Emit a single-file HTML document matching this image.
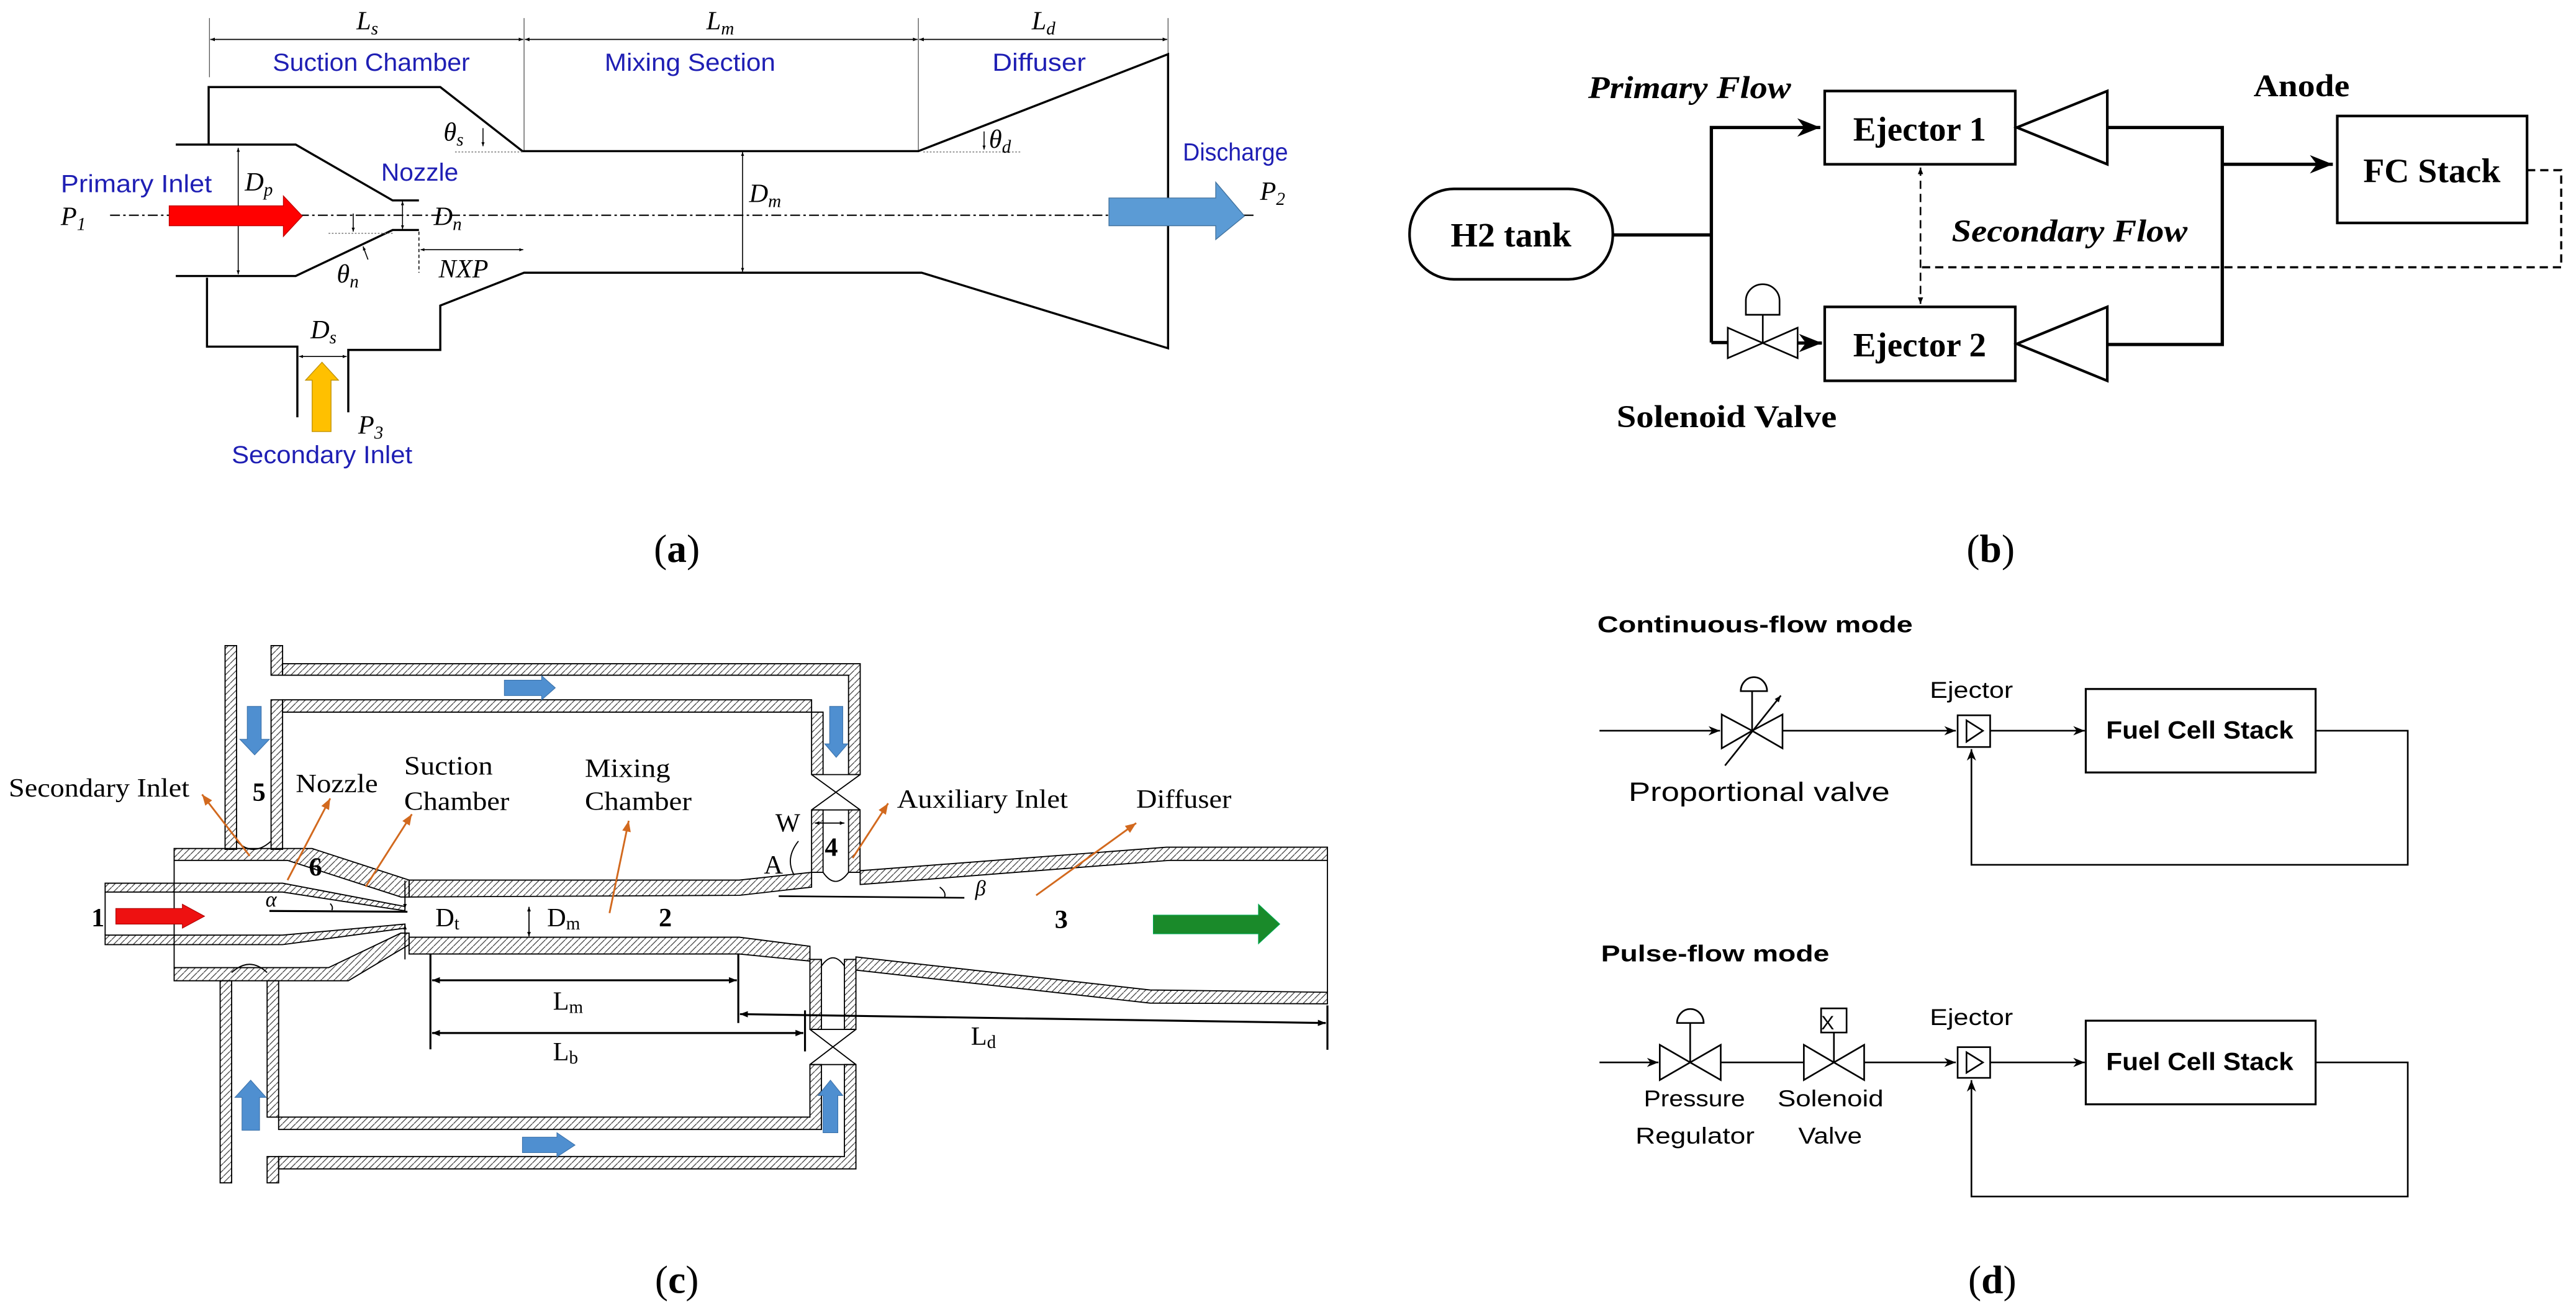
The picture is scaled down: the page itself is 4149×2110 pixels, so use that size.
<!DOCTYPE html>
<html><head><meta charset="utf-8"><style>html,body{margin:0;padding:0;background:#fff}svg{display:block}</style></head><body>
<svg xmlns="http://www.w3.org/2000/svg" width="4149" height="2110" viewBox="0 0 1568 797.4" preserveAspectRatio="none">
<defs>
<pattern id="h" patternUnits="userSpaceOnUse" width="4" height="4"><path d="M-1,5 L5,-1" stroke="#333" stroke-width="0.45"/></pattern>
<marker id="ah" viewBox="0 0 10 10" refX="10" refY="5" markerWidth="5" markerHeight="5" orient="auto-start-reverse"><path d="M0,0 L10,5 L0,10 Z" fill="#000"/></marker>
<marker id="as" viewBox="0 0 10 10" refX="10" refY="5" markerWidth="4" markerHeight="4" orient="auto-start-reverse"><path d="M0,1 L10,5 L0,9 Z" fill="#000"/></marker>
<marker id="ao" viewBox="0 0 10 10" refX="10" refY="5" markerWidth="6" markerHeight="6" orient="auto"><path d="M0,1 L10,5 L0,9 Z" fill="#d2691e"/></marker>
<marker id="ad" viewBox="0 0 10 10" refX="10" refY="5" markerWidth="7" markerHeight="7" orient="auto-start-reverse"><path d="M0,1 L10,5 L0,9 L3,5 Z" fill="#000"/></marker>
</defs>
<rect width="1568" height="797.4" fill="#fff"/>

<!-- ================= PANEL A ================= -->
<g fill="none" stroke="#000">
<g stroke-width="0.5" stroke="#555">
<line x1="127.5" y1="11" x2="127.5" y2="47"/><line x1="319" y1="11" x2="319" y2="92"/><line x1="559" y1="11" x2="559" y2="92"/><line x1="711" y1="11" x2="711" y2="33"/>
</g>
<g stroke-width="0.7" marker-start="url(#as)" marker-end="url(#as)">
<line x1="128" y1="24" x2="318.5" y2="24"/><line x1="319.5" y1="24" x2="558.5" y2="24"/><line x1="559.5" y1="24" x2="710.5" y2="24"/>
</g>
<g stroke-width="1.3">
<polyline points="127,88 127,53 268,53 318,92 559,92 711,33 711,212 561,166 319,166 268,186 268,213 212,213 212,251"/>
<polyline points="181,254 181,211 126,211 126,169"/>
<polyline points="107,88 180,88 239,122 255,122"/>
<polyline points="107,168 180,168 239,140 255,140"/>
</g>
<line x1="67" y1="131" x2="765" y2="131" stroke-width="0.8" stroke-dasharray="6,2,1.5,2"/>
<g stroke-width="0.6" marker-start="url(#as)" marker-end="url(#as)">
<line x1="145" y1="90" x2="145" y2="167"/><line x1="452" y1="92.5" x2="452" y2="165.5"/>
<line x1="245" y1="122.5" x2="245" y2="139.5"/><line x1="256" y1="152" x2="318.5" y2="152"/>
<line x1="182" y1="217" x2="211" y2="217"/>
</g>
<line x1="255" y1="141" x2="255" y2="166" stroke-width="0.6" stroke-dasharray="2,1.5"/>
<g stroke-width="0.6" stroke="#777" stroke-dasharray="1,1">
<line x1="200" y1="142" x2="240" y2="142"/><line x1="277" y1="92.5" x2="318" y2="92.5"/><line x1="562" y1="92.5" x2="622" y2="92.5"/>
</g>
<g stroke-width="0.6" marker-end="url(#as)">
<line x1="215" y1="130" x2="215" y2="141"/><line x1="294" y1="78" x2="294" y2="89"/><line x1="599" y1="80" x2="599" y2="91"/>
<line x1="224" y1="158" x2="221" y2="150"/>
</g>
</g>
<polygon points="103,125.3 172.5,125.3 172.5,119.3 184,131.5 172.5,143.9 172.5,137.4 103,137.4" fill="#ff0000" stroke="#c00000" stroke-width="0.5"/>
<polygon points="675,120.5 740,120.5 740,110.9 757.5,131.5 740,145.8 740,137.4 675,137.4" fill="#5b9bd5" stroke="#41719c" stroke-width="0.5"/>
<polygon points="190,262.7 190,231.4 186,231.4 196,220.5 206,231.4 201.5,231.4 201.5,262.7" fill="#ffc000" stroke="#bf9000" stroke-width="0.5"/>
<g font-family="Liberation Sans, sans-serif" fill="#1f1fb4" font-size="15">
<text x="166" y="43" textLength="120" lengthAdjust="spacingAndGlyphs">Suction Chamber</text>
<text x="368" y="43" textLength="104" lengthAdjust="spacingAndGlyphs">Mixing Section</text>
<text x="604" y="43" textLength="57" lengthAdjust="spacingAndGlyphs">Diffuser</text>
<text x="37" y="117" textLength="92" lengthAdjust="spacingAndGlyphs">Primary Inlet</text>
<text x="232" y="110" textLength="47" lengthAdjust="spacingAndGlyphs">Nozzle</text>
<text x="720" y="97.6" textLength="64" lengthAdjust="spacingAndGlyphs">Discharge</text>
<text x="141" y="282" textLength="110" lengthAdjust="spacingAndGlyphs">Secondary Inlet</text>
</g>
<g font-family="Liberation Serif, serif" font-style="italic" font-size="16" fill="#000">
<text x="217" y="18">L<tspan font-size="11" dy="3">s</tspan></text>
<text x="430" y="18">L<tspan font-size="11" dy="3">m</tspan></text>
<text x="628" y="18">L<tspan font-size="11" dy="3">d</tspan></text>
<text x="37" y="137">P<tspan font-size="11" dy="3">1</tspan></text>
<text x="149" y="116">D<tspan font-size="11" dy="3">p</tspan></text>
<text x="264" y="137">D<tspan font-size="11" dy="3">n</tspan></text>
<text x="267" y="169">NXP</text>
<text x="205" y="172">θ<tspan font-size="11" dy="3">n</tspan></text>
<text x="270" y="85.6">θ<tspan font-size="11" dy="3">s</tspan></text>
<text x="456" y="123">D<tspan font-size="11" dy="3">m</tspan></text>
<text x="602" y="90">θ<tspan font-size="11" dy="3">d</tspan></text>
<text x="767" y="121.7">P<tspan font-size="11" dy="3">2</tspan></text>
<text x="189" y="206">D<tspan font-size="11" dy="3">s</tspan></text>
<text x="218" y="264">P<tspan font-size="11" dy="3">3</tspan></text>
</g>
<text x="412" y="342" font-family="Liberation Serif, serif" font-size="24" text-anchor="middle">(<tspan font-weight="bold">a</tspan>)</text>

<!-- ================= PANEL B ================= -->
<g fill="none" stroke="#000" stroke-width="1.6">
<rect x="1110.7" y="55.4" width="116" height="44.6"/>
<rect x="1110.7" y="186.8" width="116" height="45"/>
<rect x="1422.7" y="70.6" width="115.5" height="65.1"/>
<rect x="858" y="115" width="123.7" height="55" rx="27" ry="27"/>
<polygon points="1227.7,77.6 1282.7,55.4 1282.7,100"/>
<polygon points="1227.7,209.3 1282.7,186.8 1282.7,231.8"/>
<polyline points="1282.7,77.6 1352.7,77.6 1352.7,209.7 1282.7,209.7" stroke-width="2"/>
<polyline points="981.7,143 1041.7,143" stroke-width="2"/>
<polyline points="1041.7,208.5 1041.7,77.6 1108,77.6" stroke-width="2" marker-end="url(#ad)"/>
<polyline points="1041.7,208.5 1051.7,208.5" stroke-width="2"/>
<line x1="1094.2" y1="208.8" x2="1109" y2="208.8" stroke-width="2" marker-end="url(#ad)"/>
<line x1="1352.7" y1="100" x2="1420" y2="100" stroke-width="2" marker-end="url(#ad)"/>
<path d="M1051.7,199.5 L1073,208.8 L1051.7,218 Z M1094.2,199.5 L1073,208.8 L1094.2,218 Z" stroke-width="1"/>
<line x1="1073" y1="208.8" x2="1073" y2="191.6" stroke-width="1"/>
<path d="M1062.7,191.6 L1083.2,191.6 L1083.2,183 A10.25,10 0 0 0 1062.7,183 Z" stroke-width="1"/>
<polyline points="1538.2,103.6 1559,103.6 1559,162.7 1169,162.7" stroke-width="1.3" stroke-dasharray="5,3"/>
<line x1="1169" y1="102" x2="1169" y2="185" stroke-width="1" stroke-dasharray="5,3" marker-start="url(#as)" marker-end="url(#as)"/>
</g>
<g font-family="Liberation Serif, serif" font-weight="bold" fill="#000">
<text x="966.7" y="59.8" font-size="19" font-style="italic" textLength="123.5" lengthAdjust="spacingAndGlyphs">Primary Flow</text>
<text x="1128" y="85.6" font-size="21" textLength="81" lengthAdjust="spacingAndGlyphs">Ejector 1</text>
<text x="1128" y="217" font-size="21" textLength="81" lengthAdjust="spacingAndGlyphs">Ejector 2</text>
<text x="1438.5" y="110.9" font-size="21" textLength="83.5" lengthAdjust="spacingAndGlyphs">FC Stack</text>
<text x="883" y="150" font-size="21" textLength="73.5" lengthAdjust="spacingAndGlyphs">H2 tank</text>
<text x="1188" y="147" font-size="19" font-style="italic" textLength="143.5" lengthAdjust="spacingAndGlyphs">Secondary Flow</text>
<text x="1371.7" y="58.6" font-size="19" textLength="58.5" lengthAdjust="spacingAndGlyphs">Anode</text>
<text x="984" y="260" font-size="19" textLength="134" lengthAdjust="spacingAndGlyphs">Solenoid Valve</text>
</g>
<text x="1211.7" y="342" font-family="Liberation Serif, serif" font-size="24" text-anchor="middle">(<tspan font-weight="bold">b</tspan>)</text>

<!-- ================= PANEL C ================= -->
<g stroke="#000" stroke-width="0.7" fill="url(#h)">
<!-- top loop -->
<rect x="137" y="393" width="7" height="124"/>
<rect x="165" y="393" width="7" height="18"/>
<rect x="165" y="426" width="7" height="91"/>
<polygon points="172,404 523.6,404 523.6,471.5 516.5,471.5 516.5,411 172,411"/>
<polygon points="172,426 494,426 494,471.5 501,471.5 501,433.5 172,433.5"/>
<rect x="494" y="493" width="7" height="38"/>
<rect x="516.5" y="493" width="7" height="38"/>
<!-- bottom loop -->
<rect x="134" y="597" width="7" height="123"/>
<rect x="162.6" y="597" width="7" height="83"/>
<rect x="162.6" y="704" width="7" height="16"/>
<polygon points="169.6,680 493,680 493,648 500,648 500,687.5 169.6,687.5"/>
<polygon points="169.6,704 514,704 514,648 521,648 521,711.5 169.6,711.5"/>
<rect x="493" y="584" width="7" height="42.6"/>
<rect x="514" y="584" width="7" height="42.6"/>
<!-- main body -->
<polygon points="106,516.5 190,516.5 249,535.7 249,546 244,546 175,523.7 106,523.7"/>
<polygon points="249,535.7 450,535.7 494,531 494,540 450,545 249,546"/>
<polygon points="523.6,530 710,515.7 808,515.7 808,523.7 712,523.7 523.6,538.4"/>
<polygon points="249,570.5 450,570.5 493,576 493,585 450,580.7 249,580.7"/>
<polygon points="521,582.5 700,602.6 808,604 808,611 700,610.6 521,590.5"/>
<polygon points="106,589 200,589 244,568 249,568 249,575 212,597 106,597"/>
<polygon points="64,537.6 172,537.6 246.5,551.8 246.5,554.4 172,543 64,543"/>
<polygon points="64,569.2 172,569.2 246.5,562.5 246.5,565 172,575 64,575"/>
</g>
<g stroke="#000" fill="none" stroke-width="0.7">
<line x1="106" y1="523.7" x2="106" y2="589"/>
<line x1="64" y1="543" x2="64" y2="569.2"/>
<line x1="808" y1="523.7" x2="808" y2="604"/>
<path d="M494,471.5 L523.6,493 M523.6,471.5 L494,493 M494,471.5 L523.6,471.5 M494,493 L523.6,493"/>
<path d="M493,626.6 L521,648 M521,626.6 L493,648 M493,626.6 L521,626.6 M493,648 L521,648"/>
<path d="M144,512 Q154,522 165,512"/>
<path d="M141,592 Q152,582 162.6,592"/>
<path d="M501,531 Q508.5,542 516.5,531"/>
<path d="M500,588 Q507,578 514,588"/>
<line x1="474" y1="545.5" x2="587" y2="546.5" stroke-width="1"/>
<line x1="164" y1="554.5" x2="248" y2="555" stroke-width="1.2"/>
<path d="M486,512 Q478,522 483,532"/>
<path d="M572,540 Q576,543 575,546"/>
<path d="M201,550 Q203,552 202,554"/>
<line x1="496" y1="501" x2="514" y2="501" marker-start="url(#as)" marker-end="url(#as)"/>
<line x1="246.5" y1="536" x2="246.5" y2="553" marker-end="url(#as)"/>
<line x1="246.5" y1="584" x2="246.5" y2="563" marker-end="url(#as)"/>
<line x1="322" y1="552" x2="322" y2="570" marker-start="url(#as)" marker-end="url(#as)"/>
<g stroke-width="1.2">
<line x1="262" y1="581" x2="262" y2="638.7"/><line x1="449.4" y1="581" x2="449.4" y2="622.7"/>
<line x1="490" y1="615" x2="490" y2="640"/><line x1="808" y1="612" x2="808" y2="639"/>
<line x1="263" y1="596.7" x2="448.5" y2="596.7" marker-start="url(#as)" marker-end="url(#as)"/>
<line x1="263" y1="628.8" x2="489" y2="628.8" marker-start="url(#as)" marker-end="url(#as)"/>
<line x1="450.4" y1="617.3" x2="807" y2="622.7" marker-start="url(#as)" marker-end="url(#as)"/>
</g>
<g stroke="#d2691e" stroke-width="1.1" marker-end="url(#ao)">
<line x1="152" y1="521" x2="123" y2="483.6"/>
<line x1="175" y1="535.7" x2="201" y2="486"/>
<line x1="222.6" y1="539.7" x2="250.7" y2="495.6"/>
<line x1="371" y1="555.8" x2="382.7" y2="499.6"/>
<line x1="519" y1="522.3" x2="540.6" y2="489"/>
<line x1="630.7" y1="545" x2="691.6" y2="501"/>
</g>
</g>
<polygon points="70.5,553 111,553 111,550.4 124.5,557.7 111,565 111,562.5 70.5,562.5" fill="#ee1111" stroke="#a00" stroke-width="0.4"/>
<polygon points="702,557 766,557 766,550.4 779,562.5 766,574.5 766,568.4 702,568.4" fill="#1a8a2a" stroke="#0a5" stroke-width="0.4"/>
<g fill="#4f8fd0" stroke="#3a70a8" stroke-width="0.4">
<polygon points="307,414 329.7,414 329.7,411.3 338,418.7 329.7,426 329.7,423.4 307,423.4"/>
<polygon points="318,692.2 339,692.2 339,689.5 350,697 339,704.2 339,701.6 318,701.6"/>
<polygon points="150.5,430 159,430 159,450 164,450 155,459.5 146,450 150.5,450"/>
<polygon points="505,430 513,430 513,452.8 516,452.8 509,461 502,452.8 505,452.8"/>
<polygon points="147.3,688 158,688 158,668 162,668 152.6,657.5 143,668 147.3,668"/>
<polygon points="501,689.5 510,689.5 510,666.8 513,666.8 505.5,657.5 498,666.8 501,666.8"/>
</g>
<g font-family="Liberation Serif, serif" font-size="16" fill="#000">
<text x="5.3" y="484.9" textLength="110" lengthAdjust="spacingAndGlyphs">Secondary Inlet</text>
<text x="180" y="482.2" textLength="50" lengthAdjust="spacingAndGlyphs">Nozzle</text>
<text x="246" y="471.5" textLength="54" lengthAdjust="spacingAndGlyphs">Suction</text>
<text x="246" y="493" textLength="64" lengthAdjust="spacingAndGlyphs">Chamber</text>
<text x="356" y="472.9" textLength="52" lengthAdjust="spacingAndGlyphs">Mixing</text>
<text x="356" y="493" textLength="65" lengthAdjust="spacingAndGlyphs">Chamber</text>
<text x="546" y="491.6" textLength="104" lengthAdjust="spacingAndGlyphs">Auxiliary Inlet</text>
<text x="691.6" y="491.6" textLength="58" lengthAdjust="spacingAndGlyphs">Diffuser</text>
<text x="472" y="506.3">W</text>
<text x="465" y="531.7">A</text>
<text x="265" y="563.8">D<tspan font-size="11" dy="2">t</tspan></text>
<text x="333" y="563.8">D<tspan font-size="11" dy="2">m</tspan></text>
<text x="336.6" y="614.6">L<tspan font-size="11" dy="2">m</tspan></text>
<text x="336.6" y="645.4">L<tspan font-size="11" dy="2">b</tspan></text>
<text x="591" y="636">L<tspan font-size="11" dy="2">d</tspan></text>
<text x="161.6" y="551.8" font-style="italic" font-size="13">α</text>
<text x="593.6" y="545" font-style="italic" font-size="13">β</text>
<g font-weight="bold">
<text x="153.7" y="487.6">5</text><text x="502" y="521">4</text><text x="188" y="533">6</text>
<text x="55.6" y="563.8">1</text><text x="401" y="563.8">2</text><text x="642" y="565">3</text>
</g>
</g>
<text x="412" y="787" font-family="Liberation Serif, serif" font-size="24" text-anchor="middle">(<tspan font-weight="bold">c</tspan>)</text>

<!-- ================= PANEL D ================= -->
<g fill="none" stroke="#000" stroke-width="1">
<!-- continuous -->
<line x1="973.6" y1="444.8" x2="1047" y2="444.8" marker-end="url(#ad)"/>
<path d="M1048,434.9 L1066.5,444.8 L1048,455.5 Z M1085,434.9 L1066.5,444.8 L1085,455.5 Z"/>
<line x1="1066.5" y1="444.8" x2="1066.5" y2="420.7"/>
<path d="M1059.6,420.7 L1075.6,420.7 A8,8.5 0 0 0 1059.6,420.7 Z"/>
<line x1="1050" y1="466" x2="1084" y2="423.4" marker-end="url(#as)"/>
<line x1="1085" y1="444.8" x2="1190.5" y2="444.8" marker-end="url(#ad)"/>
<rect x="1191.6" y="435.4" width="19.8" height="19.3"/>
<polygon points="1197,438.5 1207,444.8 1197,451.5"/>
<line x1="1211.4" y1="444.8" x2="1269" y2="444.8" marker-end="url(#ad)"/>
<rect x="1269.6" y="419.4" width="139.9" height="50.8" stroke-width="1.2"/>
<polyline points="1409.5,444.8 1465.6,444.8 1465.6,526.4 1200,526.4 1200,456" marker-end="url(#ad)"/>
<!-- pulse -->
<line x1="973.6" y1="646.7" x2="1009.5" y2="646.7" marker-end="url(#ad)"/>
<path d="M1010.3,636 L1028.8,646.7 L1010.3,657.4 Z M1047.4,636 L1028.8,646.7 L1047.4,657.4 Z"/>
<line x1="1028.8" y1="646.7" x2="1028.8" y2="622.7"/>
<path d="M1020.8,622.7 L1037,622.7 A8.1,8.5 0 0 0 1020.8,622.7 Z"/>
<line x1="1047.4" y1="646.7" x2="1098" y2="646.7"/>
<path d="M1098,636 L1116.3,646.7 L1098,657.4 Z M1134.7,636 L1116.3,646.7 L1134.7,657.4 Z"/>
<line x1="1116.3" y1="646.7" x2="1116.3" y2="628.5"/>
<rect x="1108.5" y="613.8" width="15.5" height="14.7"/>
<line x1="1134.7" y1="646.7" x2="1190.5" y2="646.7" marker-end="url(#ad)"/>
<rect x="1191.6" y="637.4" width="19.8" height="18.7"/>
<polygon points="1197,640.5 1207,646.7 1197,653"/>
<line x1="1211.4" y1="646.7" x2="1269" y2="646.7" marker-end="url(#ad)"/>
<rect x="1269.6" y="621.3" width="139.9" height="50.9" stroke-width="1.2"/>
<polyline points="1409.5,646.7 1465.6,646.7 1465.6,728.3 1200,728.3 1200,657.5" marker-end="url(#ad)"/>
</g>
<g font-family="Liberation Sans, sans-serif" fill="#000">
<text x="972.3" y="385" font-size="14" font-weight="bold" textLength="192" lengthAdjust="spacingAndGlyphs">Continuous-flow mode</text>
<text x="974.5" y="585.2" font-size="14" font-weight="bold" textLength="139" lengthAdjust="spacingAndGlyphs">Pulse-flow mode</text>
<text x="1174.7" y="424.7" font-size="14" textLength="50.6" lengthAdjust="spacingAndGlyphs">Ejector</text>
<text x="1174.7" y="624" font-size="14" textLength="50.6" lengthAdjust="spacingAndGlyphs">Ejector</text>
<text x="1282" y="449.6" font-size="15" font-weight="bold" textLength="114" lengthAdjust="spacingAndGlyphs">Fuel Cell Stack</text>
<text x="1282" y="651.3" font-size="15" font-weight="bold" textLength="114" lengthAdjust="spacingAndGlyphs">Fuel Cell Stack</text>
<text x="991.3" y="487.6" font-size="16" textLength="159" lengthAdjust="spacingAndGlyphs">Proportional valve</text>
<text x="1000.6" y="673.5" font-size="14" textLength="61.6" lengthAdjust="spacingAndGlyphs">Pressure</text>
<text x="995.5" y="696.2" font-size="14" textLength="72.5" lengthAdjust="spacingAndGlyphs">Regulator</text>
<text x="1082" y="673.5" font-size="14" textLength="64.5" lengthAdjust="spacingAndGlyphs">Solenoid</text>
<text x="1094.6" y="696.2" font-size="14" textLength="38.8" lengthAdjust="spacingAndGlyphs">Valve</text>
<text x="1112.5" y="626.5" font-size="12" text-anchor="middle">X</text>
</g>
<text x="1212.7" y="787" font-family="Liberation Serif, serif" font-size="24" text-anchor="middle">(<tspan font-weight="bold">d</tspan>)</text>
</svg>
</body></html>
